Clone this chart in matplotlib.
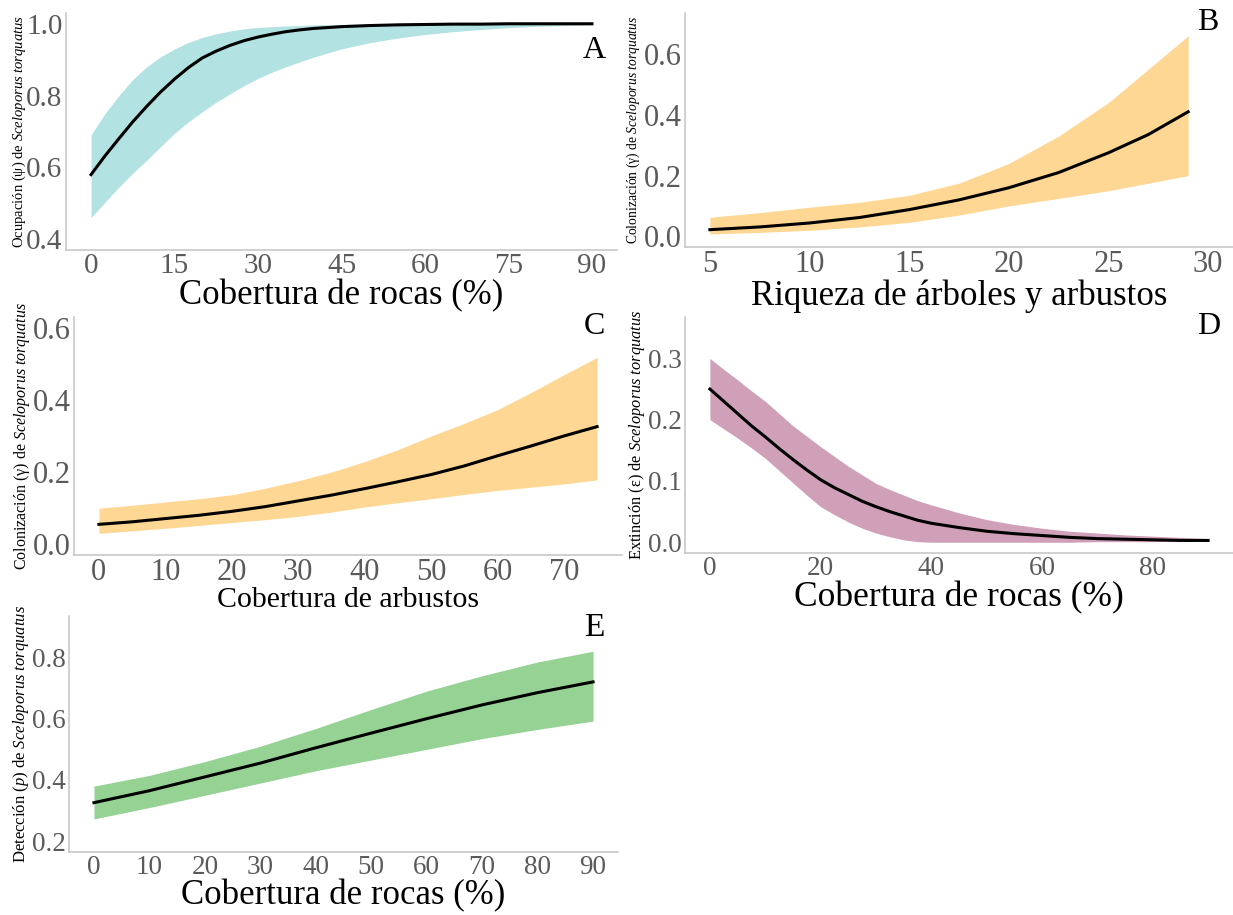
import numpy as np
import matplotlib
matplotlib.use("Agg")
import matplotlib.pyplot as plt

plt.rcParams["font.family"] = ["Liberation Serif", "DejaVu Serif"]
plt.rcParams["mathtext.fontset"] = "custom"
plt.rcParams["mathtext.rm"] = "Liberation Serif"
plt.rcParams["mathtext.it"] = "Liberation Serif:italic"

# A: ocupación vs cobertura de rocas
a_x = [0, 2.5, 5, 7.5, 10, 12.5, 15, 17.5, 20, 22.5, 25, 27.5, 30, 32.5, 35, 37.5, 40,
       45, 50, 55, 60, 65, 70, 75, 80, 85, 90]
a_mean = [0.58, 0.632, 0.68, 0.727, 0.77, 0.81, 0.846, 0.878, 0.905, 0.924, 0.94, 0.953,
          0.963, 0.971, 0.978, 0.983, 0.987, 0.992, 0.995,
          0.997, 0.998, 0.999, 0.999, 1.0, 1.0, 1.0, 1.0]
a_up = [0.69, 0.75, 0.80, 0.845, 0.88, 0.908, 0.93, 0.948, 0.962, 0.972, 0.98, 0.986,
        0.99, 0.992, 0.994, 0.995, 0.997, 0.998, 0.999,
        0.999, 1.0, 1.0, 1.0, 1.0, 1.0, 1.0, 1.0]
a_lo = [0.46, 0.503, 0.545, 0.584, 0.62, 0.658, 0.695, 0.727, 0.755, 0.782, 0.805, 0.828,
        0.848, 0.865, 0.88, 0.894, 0.907, 0.93, 0.947,
        0.96, 0.97, 0.978, 0.984, 0.989, 0.993, 0.995, 0.997]

# B: colonización vs riqueza
b_x = [5, 7.5, 10, 12.5, 15, 17.5, 20, 22.5, 25, 27, 29]
b_mean = [0.022, 0.031, 0.044, 0.062, 0.088, 0.12, 0.16, 0.21, 0.275, 0.335, 0.41]
b_up = [0.063, 0.078, 0.096, 0.112, 0.135, 0.175, 0.24, 0.33, 0.44, 0.55, 0.66]
b_lo = [0.008, 0.013, 0.02, 0.031, 0.046, 0.07, 0.10, 0.125, 0.15, 0.175, 0.2]

# C: colonización vs cobertura de arbustos
c_x = [0, 5, 10, 15, 20, 25, 30, 35, 40, 45, 50, 55, 60, 65, 70, 75]
c_mean = [0.055, 0.062, 0.071, 0.08, 0.091, 0.104, 0.12, 0.136, 0.154, 0.173, 0.193,
          0.217, 0.245, 0.272, 0.30, 0.326]
c_up = [0.10, 0.108, 0.117, 0.126, 0.137, 0.155, 0.176, 0.2, 0.229, 0.262, 0.30,
        0.335, 0.373, 0.42, 0.47, 0.518]
c_lo = [0.03, 0.037, 0.044, 0.052, 0.06, 0.068, 0.077, 0.089, 0.103, 0.115, 0.126,
        0.138, 0.149, 0.158, 0.167, 0.178]

# D: extinción vs cobertura de rocas
d_x = [0, 2.5, 5, 7.5, 10, 12.5, 15, 17.5, 20, 22.5, 25, 27.5, 30, 32.5, 35, 37.5, 40,
       45, 50, 55, 60, 65, 70, 75, 80, 85, 90]
d_mean = [0.25, 0.23, 0.21, 0.19, 0.172, 0.153, 0.135, 0.118, 0.102, 0.089, 0.078, 0.067,
          0.058, 0.05, 0.043, 0.036, 0.031, 0.024, 0.018,
          0.014, 0.011, 0.008, 0.006, 0.005, 0.004, 0.003, 0.003]
d_up = [0.30, 0.282, 0.265, 0.247, 0.23, 0.21, 0.19, 0.173, 0.156, 0.14, 0.124, 0.11,
        0.096, 0.086, 0.077, 0.068, 0.061, 0.048, 0.037,
        0.029, 0.023, 0.018, 0.015, 0.012, 0.01, 0.008, 0.006]
d_lo = [0.20, 0.185, 0.17, 0.154, 0.137, 0.117, 0.097, 0.077, 0.058, 0.045, 0.033, 0.023,
        0.015, 0.009, 0.004, 0.001, 0.0, 0.0, 0.0,
        0.0, 0.0, 0.0, 0.001, 0.001, 0.001, 0.002, 0.002]

# E: detección vs cobertura de rocas
e_x = [0, 10, 20, 30, 40, 50, 60, 70, 80, 90]
e_mean = [0.326, 0.365, 0.41, 0.455, 0.505, 0.553, 0.60, 0.645, 0.685, 0.72]
e_up = [0.38, 0.415, 0.46, 0.51, 0.568, 0.63, 0.69, 0.74, 0.785, 0.82]
e_lo = [0.273, 0.31, 0.35, 0.39, 0.43, 0.465, 0.50, 0.535, 0.565, 0.592]

sp = r"$\mathit{Sceloporus\ torquatus}$"

W, H = 1233, 915
fig = plt.figure(figsize=(W / 100, H / 100), dpi=100)


def panel(box, x, mean, up, lo, color, xlim, ylim, xticks, yticks, xlabel, xl_size,
          ylabel, yl_size, yl_x, tick_size, letter, letter_xy, letter_size, lpad=0):
    left, right, top, bottom = box
    ax = fig.add_axes([left / W, 1 - bottom / H, (right - left) / W, (bottom - top) / H])
    ax.fill_between(x, lo, up, color=color, lw=0)
    ax.plot(x, mean, color="black", lw=2.2)
    ax.set_xlim(*xlim)
    ax.set_ylim(*ylim)
    ax.set_xticks(xticks)
    ax.set_yticks(yticks)
    ax.set_yticklabels(["%.1f" % v for v in yticks])
    ax.tick_params(length=0, labelsize=tick_size, colors="#5a5a5a", pad=2.5)
    for s in ["top", "right"]:
        ax.spines[s].set_visible(False)
    for s in ["left", "bottom"]:
        ax.spines[s].set_color("#c4c4c4")
        ax.spines[s].set_linewidth(1.1)
    ax.set_xlabel(xlabel, fontsize=xl_size, labelpad=lpad)
    fig.text(yl_x / W, 1 - (top + bottom) / 2 / H, ylabel, rotation=90,
             ha="center", va="center", fontsize=yl_size)
    fig.text(letter_xy[0] / W, 1 - letter_xy[1] / H, letter, ha="center", va="center",
             fontsize=letter_size)
    return ax


panel((66, 617, 13, 250), a_x, a_mean, a_up, a_lo, "#b3e2e3",
      (-4.5, 94.5), (0.37, 1.03), [0, 15, 30, 45, 60, 75, 90], [0.4, 0.6, 0.8, 1.0],
      "Cobertura de rocas (%)", 25, "Ocupación (ψ) de " + sp, 10.5, 19,
      21, "A", (594, 50), 23)

panel((685, 1233, 13, 247), b_x, b_mean, b_up, b_lo, "#ffd795",
      (3.75, 31.25), (-0.035, 0.735), [5, 10, 15, 20, 25, 30], [0.0, 0.2, 0.4, 0.6],
      "Riqueza de árboles y arbustos", 25, "Colonización (γ) de " + sp, 9.8, 633,
      22, "B", (1208, 23), 23)

panel((74, 622, 317, 555), c_x, c_mean, c_up, c_lo, "#ffd795",
      (-3.75, 78.75), (-0.03, 0.63), [0, 10, 20, 30, 40, 50, 60, 70], [0.0, 0.2, 0.4, 0.6],
      "Cobertura de arbustos", 21.5, "Colonización (γ) de " + sp, 11.5, 22,
      22, "C", (594, 327), 23)

panel((685, 1233, 317, 553), d_x, d_mean, d_up, d_lo, "#cfa0b8",
      (-4.5, 94.5), (-0.0175, 0.3675), [0, 20, 40, 60, 80], [0.0, 0.1, 0.2, 0.3],
      "Cobertura de rocas (%)", 25.5, "Extinción (ε) de " + sp, 11.8, 637,
      19.5, "D", (1209, 327), 23)

panel((69, 618, 616, 852), e_x, e_mean, e_up, e_lo, "#96d294",
      (-4.5, 94.5), (0.165, 0.935), [0, 10, 20, 30, 40, 50, 60, 70, 80, 90],
      [0.2, 0.4, 0.6, 0.8],
      "Cobertura de rocas (%)", 25, "Detección ($\\mathit{p}$) de " + sp, 12, 21,
      19.5, "E", (594, 628), 24, lpad=-1)

fig.savefig("out.png", dpi=100)
